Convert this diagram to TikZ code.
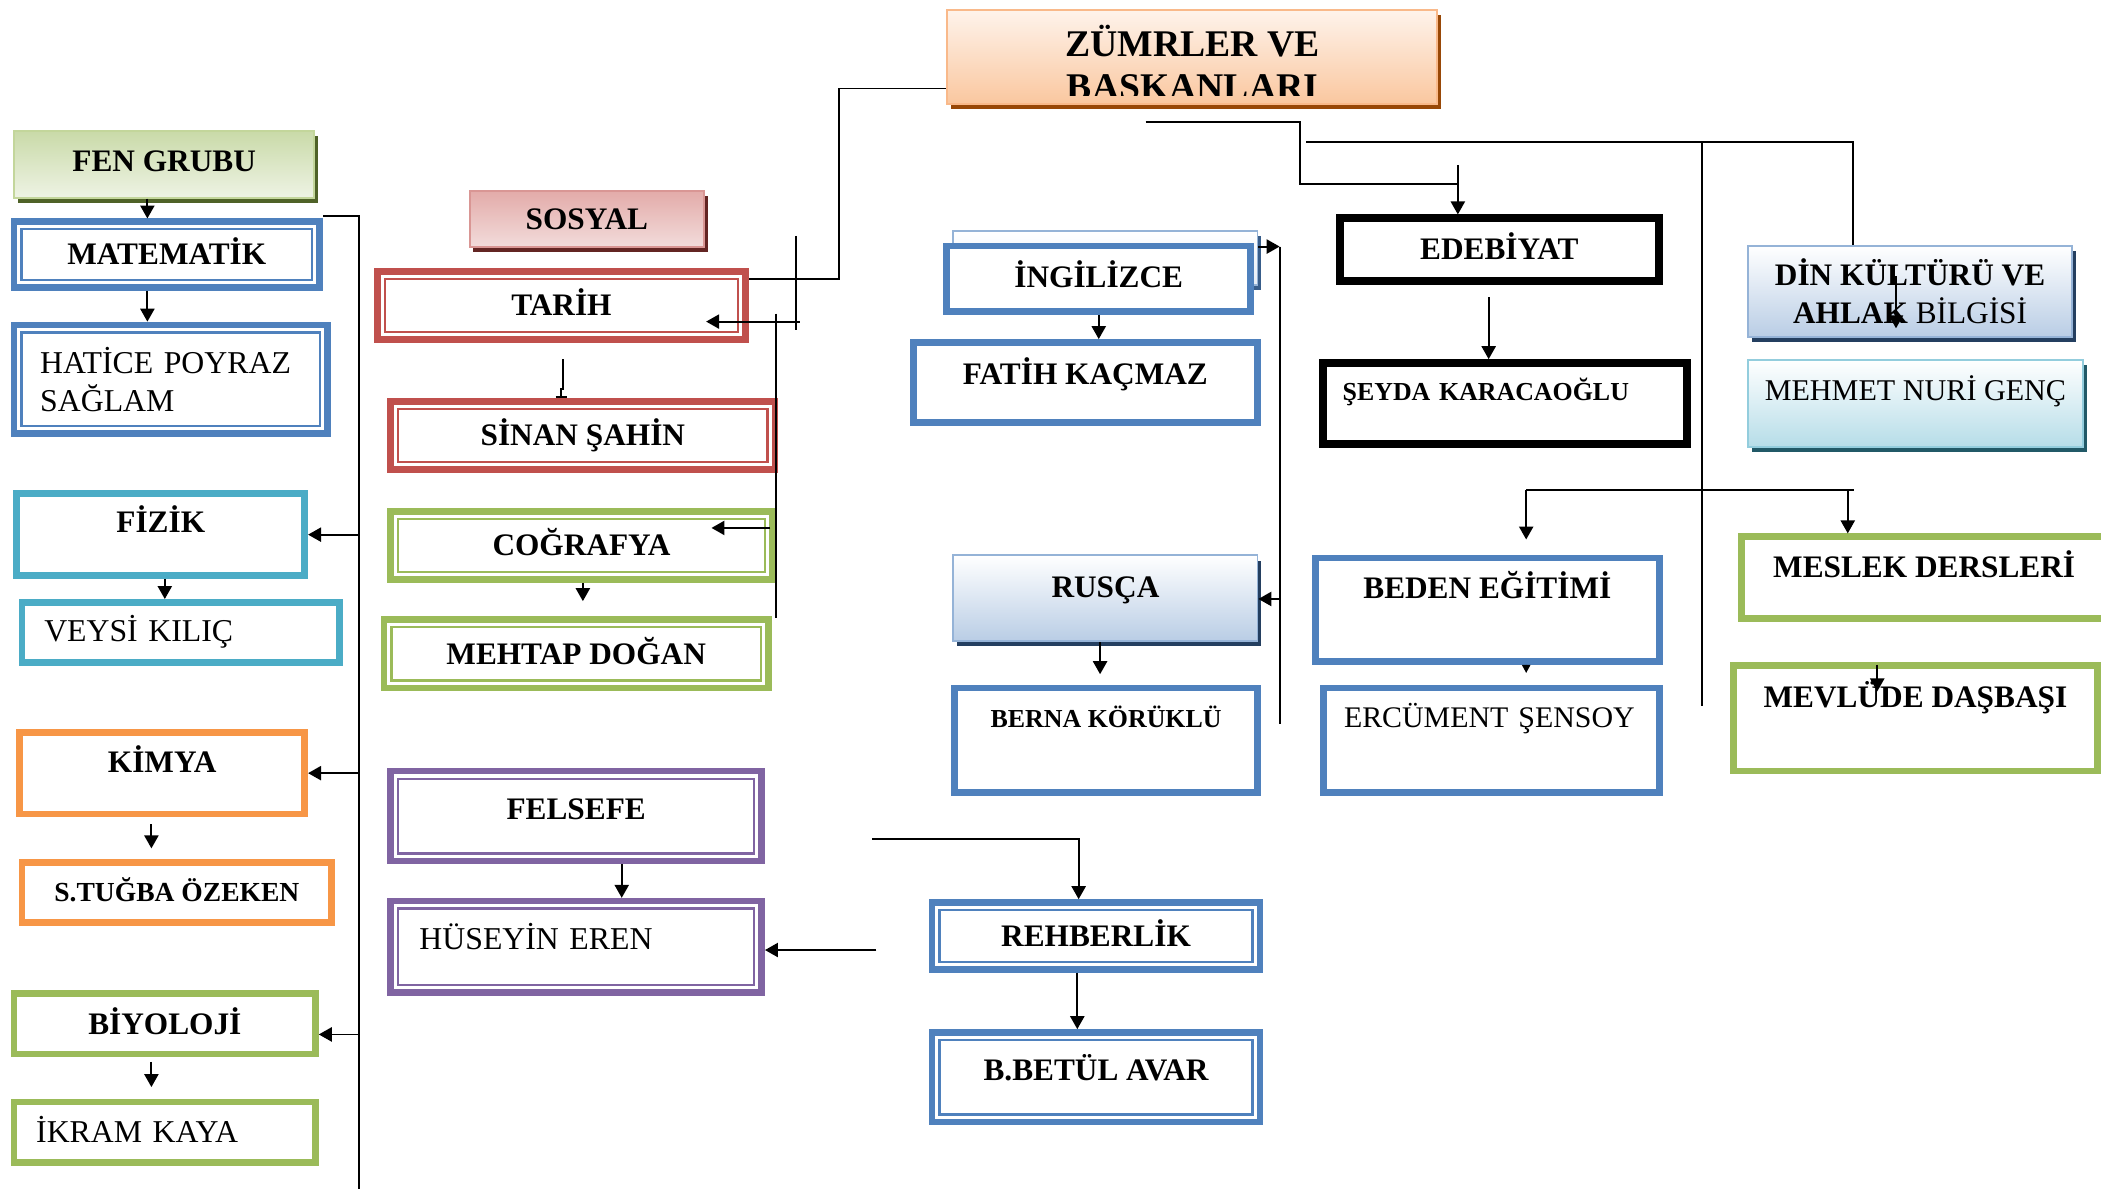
\documentclass[tikz,border=0pt]{standalone}
\usepackage{fontspec}
\setmainfont{Liberation Serif}
\usetikzlibrary{arrows.meta,shadows}
\definecolor{blueL}{HTML}{4F81BD}
\definecolor{redL}{HTML}{C0504D}
\definecolor{greenL}{HTML}{9BBB59}
\definecolor{purpL}{HTML}{8064A2}
\definecolor{aquaL}{HTML}{4BACC6}
\definecolor{orngL}{HTML}{F79646}
\definecolor{zumB}{HTML}{F9B98A}
\definecolor{zumT}{HTML}{FEF3EB}
\definecolor{zumM}{HTML}{FAC79F}
\definecolor{zumS}{HTML}{984807}
\definecolor{fenB}{HTML}{C3D69B}
\definecolor{fenT}{HTML}{C9DAA8}
\definecolor{fenM}{HTML}{EEF3E4}
\definecolor{fenS}{HTML}{4F6228}
\definecolor{sosB}{HTML}{D99694}
\definecolor{sosT}{HTML}{E3ABA9}
\definecolor{sosM}{HTML}{F2DCDB}
\definecolor{sosS}{HTML}{632523}
\definecolor{rusB}{HTML}{95B3D7}
\definecolor{rusM}{HTML}{B9CDE5}
\definecolor{rusS}{HTML}{243F60}
\definecolor{ingM}{HTML}{E6EDF6}
\definecolor{ingS}{HTML}{385D8A}
\definecolor{mehB}{HTML}{93CDDD}
\definecolor{mehM}{HTML}{B6DDE8}
\definecolor{mehS}{HTML}{215967}

\tikzset{
  boxbase/.style={inner sep=0pt, font=\bfseries\fontsize{13.3}{16}\selectfont},
  sz/.style 2 args={minimum width=#1*0.569pt, minimum height=#2*0.569pt},
  lift/.style={text height=8.8pt, text depth=#1*1.138pt},
  reg/.style={font=\fontsize{13.5}{16}\selectfont},
  smallb/.style={font=\bfseries\fontsize{11}{13}\selectfont},
  lft/.style={align=left, text width=#1*0.569pt},
  sbox/.style={boxbase, draw=#1, line width=2.8pt, fill=white},
  dbox/.style={sbox=#1, path picture={
    \draw[draw=#1, line width=1pt]
      ([shift={(3.2pt,3.2pt)}]path picture bounding box.south west) rectangle
      ([shift={(-3.2pt,-3.2pt)}]path picture bounding box.north east);}},
  kbox/.style={boxbase, draw=black, line width=3.4pt, fill=white},
  gbox/.style n args={4}{boxbase, draw=#1, line width=0.8pt, top color=#2, bottom color=#3,
    general shadow={fill=#4, shadow xshift=1.6pt, shadow yshift=-2.2pt}},
  link/.style={draw=black, line width=0.8pt},
  arr/.style={link, -{Triangle[length=5.5pt,width=6pt]}},
  smalltip/.style={link, -{Triangle[length=3.5pt,width=3.5pt]}}
}

\begin{document}
\begin{tikzpicture}[x=0.02cm, y=-0.02cm]
\useasboundingbox[fill=white] (0,0) rectangle (1568,887);

% title
\node[gbox={zumB}{zumT}{zumM}{zumS}, sz={366}{70}] (zumre) at (889.5,42.5) {};
\begin{scope}
  \clip (706,7) rectangle (1075,71);
  \node[boxbase, font=\bfseries\fontsize{16}{19}\selectfont, anchor=base] (zumre1) at (890,41.8) {ZÜMRLER VE};
  \node[boxbase, font=\bfseries\fontsize{16}{19}\selectfont, anchor=base] (zumre2) at (890,74) {BAŞKANLARI};
\end{scope}

% fen grubu
\node[gbox={fenB}{fenT}{fenM}{fenS}, sz={224}{50}, lift=2.5] (fen) at (122.5,122.5) {FEN GRUBU};
\node[dbox=blueL, sz={228}{49}, lift=0] (matematik) at (124.5,190) {MATEMATİK};
\node[dbox=blueL, sz={234}{81}, reg, lft=195] (hatice) at (127.5,283) {\mbox{HATİCE POYRAZ}\\SAĞLAM};
\node[sbox=aquaL, sz={215}{61}, lift=9] (fizik) at (120,399) {FİZİK};
\node[sbox=aquaL, sz={237}{45}, reg, lft=204, lift=1] (veysi) at (135,472) {VEYSİ KILIÇ};
\node[sbox=orngL, sz={213}{61}, lift=8] (kimya) at (121,577) {KİMYA};
\node[sbox=orngL, sz={231}{45}, lift=1, font=\bfseries\fontsize{11.7}{14}\selectfont] (tugba) at (132,666) {S.TUĞBA ÖZEKEN};
\node[sbox=greenL, sz={225}{45}, lift=0] (biyoloji) at (123,764) {BİYOLOJİ};
\node[sbox=greenL, sz={225}{45}, reg, lft=192, lift=0] (ikram) at (123,845) {İKRAM KAYA};

% sosyal
\node[gbox={sosB}{sosT}{sosM}{sosS}, sz={175}{42}, lift=0] (sosyal) at (438,163.5) {SOSYAL};
\node[dbox=redL, sz={275}{51}, lift=0] (tarih) at (419,228) {TARİH};
\node[dbox=redL, sz={287}{51}, lift=0] (sinan) at (435,325) {SİNAN ŞAHİN};
\node[dbox=greenL, sz={285}{51}, lift=0] (cografya) at (434,407) {COĞRAFYA};
\node[dbox=greenL, sz={287}{51}, lift=0] (mehtap) at (430,488) {MEHTAP DOĞAN};
\node[dbox=purpL, sz={277}{67}, lift=5] (felsefe) at (430,609) {FELSEFE};
\node[dbox=purpL, sz={277}{68}, reg, lft=234, lift=5.5] (huseyin) at (430,706.5) {HÜSEYİN EREN};

% yabanci dil, rehberlik
\node[gbox={rusB}{white}{ingM}{ingS}, sz={227}{40}] (ingback) at (825,192.5) {};
\node[sbox=blueL, sz={227}{49}, lift=1] (ingilizce) at (820,208) {İNGİLİZCE};
\node[sbox=blueL, sz={257}{60}, lift=6.5] (fatih) at (810,285.5) {FATİH KAÇMAZ};
\node[gbox={rusB}{white}{rusM}{rusS}, sz={227}{64}, lift=8] (rusca) at (825,446.5) {RUSÇA};
\node[sbox=blueL, sz={226}{78}, smallb, lift=17.5] (berna) at (825.5,552.5) {BERNA KÖRÜKLÜ};
\node[dbox=blueL, sz={245}{50}, lift=0] (rehberlik) at (818,698.5) {REHBERLİK};
\node[dbox=blueL, sz={245}{67}, lift=5] (betul) at (818,804) {B.BETÜL AVAR};

% edebiyat, beden
\node[kbox, sz={238}{47}, lift=0.5] (edebiyat) at (1119,186.5) {EDEBİYAT};
\node[kbox, sz={272}{60}, smallb, lft=242, lift=10] (seyda) at (1123,301) {ŞEYDA KARACAOĞLU};
\node[sbox=blueL, sz={257}{77}, lift=16] (beden) at (1110,455) {BEDEN EĞİTİMİ};
\node[sbox=blueL, sz={251}{78}, reg, font=\fontsize{12.7}{15}\selectfont, lft=220, lift=17.5] (ercument) at (1113,552.5) {\mbox{ERCÜMENT ŞENSOY}};

% din, meslek
\node[gbox={rusB}{white}{rusM}{rusS}, sz={242}{68}, align=center] (din) at (1425.5,217.5) {DİN KÜLTÜRÜ VE\\AHLAK {\mdseries BİLGİSİ}};
\node[gbox={mehB}{white}{mehM}{mehS}, sz={250}{65}, font=\fontsize{12.8}{15}\selectfont, lift=10] (mehmet) at (1429.5,301) {MEHMET NURİ GENÇ};
\node[sbox=greenL, sz={273}{61}, lift=8] (meslek) at (1436,431) {MESLEK DERSLERİ};
\node[sbox=greenL, sz={272}{79}, lift=16] (mevlude) at (1429.5,536) {MEVLÜDE DAŞBAŞI};

% fen column connectors
\coordinate (fT) at (268,161);
\coordinate (fB) at (268,887);
\coordinate (bA) at (268,772);
\draw[link] (fB) -- (fT) -- (fT -| matematik.east);
\draw[arr] (fizik.east -| fT) -- (fizik.east);
\draw[arr] (kimya.east -| fT) -- (kimya.east);
\draw[arr] (bA) -- (biyoloji.east |- bA);
\draw[arr] (fen.south -| 110,0) -- (matematik.north -| 110,0);
\draw[arr] (matematik.south -| 110,0) -- (hatice.north -| 110,0);
\draw[arr] (fizik.south -| 123,0) -- (veysi.north -| 123,0);
\draw[arr, shorten <=3pt, shorten >=4.5pt] (kimya.south -| 113,0) -- (tugba.north -| 113,0);
\draw[arr, shorten <=2pt, shorten >=5pt] (biyoloji.south -| 113,0) -- (ikram.north -| 113,0);

% sosyal column connectors
\coordinate (zL) at (626,66);
\draw[link] (zumre.west |- zL) -- (zL) |- (tarih.east |- 0,208);
\coordinate (tA) at (594,176);
\coordinate (tB) at (594,246);
\coordinate (tC) at (597,240);
\coordinate (tD) at (527,240);
\draw[link] (tA) -- (tB);
\draw[arr] (tC) -- (tD);
\coordinate (sA) at (579,234);
\coordinate (sB) at (579,461);
\coordinate (cA) at (575,394);
\coordinate (cB) at (531,394);
\draw[link] (sA) -- (sB);
\draw[arr] (cA) -- (cB);
\coordinate (tS1) at (420,268);
\coordinate (tS2) at (419,296);
\draw[link] (tS1) -- ++(0,22) -| (tS2);
\draw[link] ([xshift=-2.5pt]tS2) -- ([xshift=2.5pt]tS2);
\draw[arr, shorten >=6.5pt] (cografya.south -| 435,0) -- (mehtap.north -| 435,0);
\draw[arr] (felsefe.south -| 464,0) -- (huseyin.north -| 464,0);

% dil and rehberlik connectors
\coordinate (vT) at (955,184);
\coordinate (vB) at (955,540);
\coordinate (vR) at (955,447);
\draw[arr] (ingback.east |- vT) -- (vT);
\draw[link] (vT) -- (vB);
\draw[arr] (vR) -- (rusca.east |- vR);
\draw[arr] (ingilizce.south) -- (fatih.north -| ingilizce.south);
\draw[arr, shorten >=4.5pt] (rusca.south -| 821,0) -- (berna.north -| 821,0);
\coordinate (rA) at (651,626);
\draw[arr] (rA) -| (rehberlik.north -| 805,0);
\coordinate (hA) at (654,709);
\draw[arr] (hA) -- (huseyin.east |- hA);
\draw[arr] (rehberlik.south -| 804,0) -- (betul.north -| 804,0);

% right side connectors
\coordinate (eA) at (855,91);
\coordinate (eB) at (970,91);
\coordinate (eC) at (970,137);
\coordinate (eD) at (1088,137);
\coordinate (eE) at (1088,123);
\draw[link] (eA) -- (eB) -- (eC) -- (eD);
\draw[arr] (eE) -- (edebiyat.north -| eE);
\draw[arr, shorten <=5pt] (edebiyat.south -| 1111,0) -- (seyda.north -| 1111,0);
\coordinate (dA) at (975,106);
\coordinate (dB) at (1383,106);
\coordinate (dC) at (1270,106);
\coordinate (dD) at (1270,527);
\draw[link] (dA) -- (dB) -- (din.north -| dB);
\draw[link] (dC) -- (dD);
\coordinate (kA) at (1415,206);
\coordinate (kB) at (1415,245);
\draw[arr] (kA) -- (kB);
\coordinate (mA) at (1139,366);
\coordinate (mB) at (1384,366);
\coordinate (mC) at (1379,366);
\draw[link] (mA) -- (mB);
\draw[arr, shorten >=6.5pt] (mA) -- (beden.north -| mA);
\draw[arr] (mC) -- (meslek.north -| mC);
\draw[smalltip, shorten >=5pt] (beden.south -| mA) -- (ercument.north -| mA);
\coordinate (gA) at (1401,496);
\coordinate (gB) at (1401,516);
\draw[arr] (gA) -- (gB);
\end{tikzpicture}
\end{document}
